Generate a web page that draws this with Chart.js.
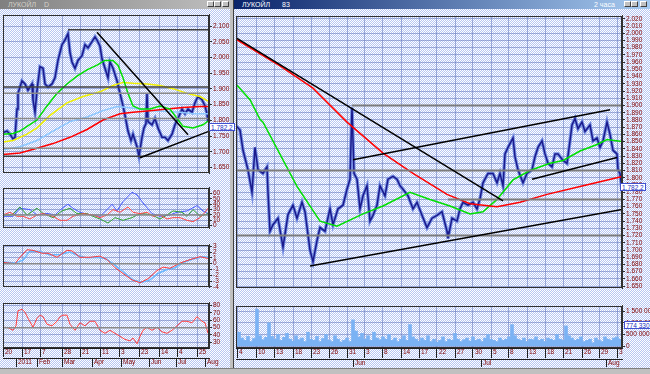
<!DOCTYPE html>
<html><head><meta charset="utf-8">
<script src="https://cdn.jsdelivr.net/npm/chart.js@4.4.0/dist/chart.umd.min.js"></script>
<style>
html,body{margin:0;padding:0;width:650px;height:374px;overflow:hidden;background:#c0c0c0;font-family:"Liberation Sans",Arial,sans-serif;}
.win{position:absolute;background:repeating-conic-gradient(#ffffff 0 25%, #b6c6f2 0 50%) 0 0/2px 2px;}
canvas{position:absolute;}
.tb{position:absolute;top:0;height:9px;font-size:7px;line-height:9px;white-space:nowrap;}
.btn{position:absolute;top:1px;width:7px;height:6px;background:#c0c0c0;border:1px solid;border-color:#fff #404040 #404040 #fff;box-sizing:border-box;}
.box{position:absolute;font-size:6.5px;line-height:7px;height:8px;background:#fff;color:#2030c0;border:1px solid #4050d0;box-sizing:border-box;padding:0 1px;white-space:nowrap;}
</style></head><body>
<div class="tb" style="left:0;width:230px;background:linear-gradient(90deg,#808080,#c0c0c0);color:#d4d0c8;"><span style="margin-left:8px">ЛУКОЙЛ</span><span style="margin-left:8px">D</span></div>
<div class="btn" style="left:207px"></div><div class="btn" style="left:214px"></div><div class="btn" style="left:222px"></div>
<div class="tb" style="left:234px;width:416px;background:linear-gradient(90deg,#0a246a,#a6caf0);color:#fff;"><span style="margin-left:8px">ЛУКОЙЛ</span><span style="margin-left:12px">83</span><span style="position:absolute;left:360px">2 часа</span></div>
<div class="btn" style="left:624px"></div><div class="btn" style="left:631px"></div><div class="btn" style="left:640px"></div>
<div class="win" style="left:0;top:9px;width:230px;height:359px;"></div>
<div style="position:absolute;left:230px;top:0;width:4px;height:374px;background:#c0c0c0;border-right:1px solid #404040;box-sizing:border-box;"></div>
<div class="win" style="left:234px;top:9px;width:416px;height:359px;"></div>
<div style="position:absolute;left:0;top:368px;width:650px;height:6px;background:#c0c0c0;border-top:1px solid #808080;box-sizing:border-box;"></div>

<canvas id="c1" style="left:3px;top:10px" width="227" height="168"></canvas>
<canvas id="c2" style="left:3px;top:183px" width="227" height="50"></canvas>
<canvas id="c3" style="left:3px;top:240px" width="227" height="52"></canvas>
<canvas id="c4" style="left:3px;top:298px" width="227" height="70"></canvas>
<canvas id="c5" style="left:236px;top:11px" width="414" height="282"></canvas>
<canvas id="c6" style="left:236px;top:301px" width="414" height="67"></canvas>

<div class="box" style="left:209px;top:123px">1.782,2</div>
<div class="box" style="left:620px;top:183px">1.782,2</div>
<div class="box" style="left:624px;top:321px">774 330</div>

<script>
// ===== LEFT WINDOW (daily) =====
const lDayPos = [0,19,37,59,77,97,116,136,156,174,194];
const lDayLabels = ['20','17','7','28','21','11','3','23','14','4','25'];
const lMonPos = [13,34,59,89,118,146,173,202];
const lMonLabels = ['2011','Feb','Mar','Apr','May','Jun','Jul','Aug'];
const lPriceTicks = [1650,1700,1750,1800,1850,1900,1950,2000,2050,2100];

const lPriceX = [0,4,7,10,12,14,15,19,22,25,29,30,32,34,37,40,42,45,49,52,55,59,62,65,67,69,72,75,79,82,85,89,92,94,97,99,102,105,107,110,114,117,120,122,125,128,130,134,136,139,141,143,144,145,149,152,155,159,162,165,169,172,175,179,182,185,189,192,195,199,202,204,205];
const lPriceY = [1761,1766,1756,1741,1746,1836,1886,1926,1916,1896,1916,1866,1826,1896,1971,1966,1916,1906,1916,1936,1991,2041,2056,2076,2016,1986,1966,1991,2006,2041,2031,2051,2066,2056,2036,1996,1966,1936,1986,1966,1926,1886,1846,1816,1766,1736,1756,1716,1686,1746,1776,1790,1886,1796,1786,1806,1776,1746,1746,1736,1756,1786,1806,1836,1821,1836,1826,1856,1876,1866,1846,1821,1796];

const lGreenX = [0,10,17,24,34,44,54,64,74,84,94,102,110,115,120,125,130,137,147,157,167,174,180,190,200,205];
const lGreenY = [1756,1758,1766,1781,1801,1846,1886,1916,1941,1961,1976,1991,1991,1976,1936,1886,1846,1836,1836,1846,1836,1806,1781,1776,1786,1798];
const lYellowX = [0,10,24,34,47,64,80,97,110,120,130,144,157,170,184,197,205];
const lYellowY = [1731,1736,1756,1776,1816,1856,1876,1891,1911,1921,1918,1916,1911,1901,1886,1876,1861];
const lCyanX = [0,17,34,50,67,84,100,114,124,137,150,164,177,190,205];
const lCyanY = [1706,1716,1736,1766,1796,1811,1831,1844,1841,1836,1831,1828,1826,1821,1821];
const lRedX = [0,17,34,50,67,84,100,117,130,147,164,180,197,205];
const lRedY = [1691,1696,1711,1726,1746,1771,1801,1821,1826,1831,1836,1841,1844,1844];

// horizontal levels [from, to, value] and trend lines [x0,y0,x1,y1]
const lLevelsDark = [[65,206,2089],[0,206,1906],[0,206,1686]];
const lLevelsGray = [[0,206,1886],[0,206,1806],[0,206,1711]];
const lTrends = [[94,2081,185,1754],[137,1681,205,1764]];

// DMI / ADX panel
const adxTicks = [0,10,20,30,40,50,60];
const dmiBlueX = [0,10,17,27,34,44,52,59,65,70,77,87,97,104,109,114,120,129,134,140,149,157,167,174,184,194,200,205];
const dmiBlueY = [17.5,17.5,32.5,30,20,23,20,32.5,40,32.5,25,20,17.5,30,40,27.5,45,62.5,57.5,42.5,22.5,17.5,20,25,27.5,37.5,27.5,22.5];
const dmiGreenX = [0,9,17,24,34,40,50,59,67,74,84,90,97,105,112,120,129,134,140,149,157,164,170,179,184,190,197,205];
const dmiGreenY = [20,20,35,20,32.5,23,15,27.5,32.5,22.5,22.5,17.5,12.5,5,15,10,15,20,22.5,20,12.5,20,27.5,25,17.5,30,17.5,22.5];
const dmiRedX = [0,7,14,20,27,34,40,50,57,64,70,80,90,97,104,110,117,125,130,137,144,150,157,164,170,177,184,190,197,202,205];
const dmiRedY = [20,25,17.5,17.5,12.5,20,22.5,17.5,10,10,17.5,22.5,20,15,20,30,25,35,25,22.5,25,17.5,20,12.5,15,15,10,7.5,15,25,32.5];

// MACD panel
const macdTicks = [-4,-3,-2,-1,0,1,2,3];
const macdRedX = [0,12,17,24,30,39,45,54,64,69,77,87,97,104,112,120,129,137,145,154,160,167,177,187,197,205];
const macdRedY = [0.2,0,1.1,2.4,2.3,1.8,1.8,1.1,2.3,2.2,1.1,1.1,1.3,0.7,-0.7,-1.7,-2.8,-3.3,-2.6,-1.2,-0.6,-0.8,0.1,0.7,1.2,0.9];
const macdBlueX = [0,12,20,27,37,47,57,67,75,84,94,102,110,120,130,139,147,155,164,172,180,190,200,205];
const macdBlueY = [0.3,0.1,0.6,2.2,2.1,1.5,1.6,2.0,1.4,1.0,1.1,0.9,0,-1.4,-2.8,-3.2,-2.8,-1.7,-1.0,-0.7,0.2,0.8,1.2,1.1];

// RSI panel
const rsiTicks = [30,40,50,60,70,80];
const rsiX = [0,5,10,13,15,19,22,25,30,34,37,40,44,49,54,57,60,64,67,72,77,82,87,92,97,102,107,112,117,122,127,130,134,137,140,144,149,154,159,164,169,174,179,184,189,194,199,202,205];
const rsiY = [50.5,50,46.4,52.5,73,75,71,62.8,50.5,62.8,67,65,54.6,52.5,58.7,65,67,67,54.6,46.4,56.6,52.5,58.7,58.7,46.4,42.3,46.4,42.3,38.2,34,32,36,28,38,46.4,50.5,46.4,50.5,44.3,42.3,46.4,52.5,58.7,58.7,56.6,65,58.7,56.6,42.3];

// ===== RIGHT WINDOW (2-hour bars) =====
const rDayPos = [1,20,38,57,75,93,111,128,146,165,183,201,219,237,255,272,291,309,327,346,363,381];
const rDayLabels = ['4','10','13','18','23','26','31','3','8','14','17','22','27','30','5','8','13','18','21','26','29','3'];
const rMonPos = [117,245,370];
const rMonLabels = ['Jun','Jul','Aug'];
const rPriceTicks = [1650,1660,1670,1680,1690,1700,1710,1720,1730,1740,1750,1760,1770,1780,1790,1800,1810,1820,1830,1840,1850,1860,1870,1880,1890,1900,1910,1920,1930,1940,1950,1960,1970,1980,1990,2000,2010,2020];
const volTicks = [0,500000,1000000,1500000];

const rPriceX = [0,4,7,12,16,19,22,27,31,32,34,37,42,47,52,57,61,66,69,74,77,81,84,89,94,97,102,107,111,114,116,118,121,124,127,131,134,137,141,144,149,152,157,161,164,167,172,177,181,186,191,196,201,206,211,212,216,221,224,227,232,237,241,244,247,252,257,261,264,267,269,272,277,279,282,287,291,296,299,302,306,309,312,316,319,322,327,331,334,336,339,342,346,349,354,357,361,364,367,371,374,377,381,382,384,386];
const rPriceY = [1872,1866,1838,1811,1780,1842,1811,1806,1815,1780,1726,1735,1744,1704,1749,1762,1744,1766,1753,1700,1684,1713,1731,1726,1757,1735,1757,1762,1784,1798,1897,1806,1798,1757,1775,1789,1740,1748,1762,1789,1775,1798,1802,1798,1789,1784,1775,1757,1766,1748,1731,1744,1748,1753,1726,1716,1744,1740,1757,1766,1762,1766,1757,1771,1793,1806,1806,1793,1806,1789,1833,1842,1855,1829,1811,1793,1806,1811,1829,1842,1851,1833,1820,1815,1833,1833,1824,1820,1851,1873,1882,1868,1877,1864,1873,1851,1855,1842,1851,1877,1860,1838,1833,1811,1806,1782];

const rRedX = [1,44,77,111,147,177,211,234,261,284,311,344,384,386];
const rRedY = [1991,1955,1924,1877,1834,1806,1777,1764,1760,1766,1777,1788,1801,1802];
const rGreenX = [1,14,24,27,61,84,101,127,147,174,194,214,234,247,261,277,294,314,327,344,361,371,386];
const rGreenY = [1928,1908,1881,1877,1788,1740,1733,1750,1761,1780,1770,1761,1750,1753,1770,1797,1810,1820,1824,1837,1846,1853,1850];

const rLevels = [[116,386,1900],[0,386,1810],[212,386,1770],[0,386,1720]];
const rTrends = [[1,1993,267,1768],[117,1825,374,1894],[296,1798,381,1828],[74,1678,386,1756]];

// volume (thousands), one bar every 3 time units
const volK = [300,600,350,250,420,200,330,1580,450,280,380,1000,420,300,500,250,380,550,300,220,450,280,350,200,600,300,250,420,200,330,500,260,200,450,300,180,250,350,200,1130,650,400,550,300,450,250,600,350,280,400,300,500,250,350,200,300,450,250,930,400,300,220,350,250,450,200,300,180,250,400,200,300,250,550,300,200,280,350,220,400,250,300,200,350,500,300,250,200,350,250,300,400,930,450,300,250,350,200,300,280,400,250,300,200,350,300,250,500,300,250,870,450,350,250,300,400,200,250,300,150,350,250,200,400,300,250,350,400,300,500];

// ===== helpers =====
const gridColor = 'rgba(100,120,190,0.55)';
const labColor = '#800000';
const pts = (xs, ys) => xs.map((x, i) => ({x, y: ys[i]}));
const seg = (x0, y0, x1, y1) => [{x: x0, y: y0}, {x: x1, y: y1}];
const ln = (data, color, w) => ({type: 'line', data, borderColor: color, borderWidth: w, pointRadius: 0, fill: false, tension: 0});
const fixed = vals => s => { s.ticks = vals.map(v => ({value: v})); };
const thou = v => Math.floor(v / 1000) + '.' + String(Math.round(v % 1000)).padStart(3, '0');
const spaced = v => v === 0 ? '0' : String(v).replace(/\B(?=(\d{3})+(?!\d))/g, ' ');

const frame = {id: 'frame', afterDraw(c) {
  const a = c.chartArea, x = c.ctx;
  x.save(); x.strokeStyle = '#303030'; x.lineWidth = 1;
  x.strokeRect(Math.round(a.left) + 0.5, Math.round(a.top) + 0.5, Math.round(a.right - a.left) - 1, Math.round(a.bottom - a.top) - 1);
  x.restore();
}};

function yAxis(min, max, ticks, fmt, w) {
  return {type: 'linear', position: 'right', min, max, afterBuildTicks: fixed(ticks), afterFit: s => { s.width = w; },
    ticks: {autoSkip: false, font: {size: 6.5, family: 'Liberation Sans'}, color: labColor, padding: 1, callback: fmt},
    grid: {color: gridColor, borderDash: [1, 2], tickLength: 3, tickColor: '#303030', tickBorderDash: []},
    border: {color: '#303030'}};
}
function xHidden(max, pos) {
  return {type: 'linear', min: 0, max, offset: false, afterBuildTicks: fixed(pos), afterFit: s => { s.height = 0; },
    ticks: {display: false}, grid: {offset: false, color: gridColor, borderDash: [1, 2], drawTicks: false}, border: {display: false}};
}
function xDates(max, pos, labels, h, onArea) {
  return {type: 'linear', position: 'bottom', min: 0, max, offset: false, afterBuildTicks: fixed(pos), afterFit: s => { s.height = h; },
    ticks: {autoSkip: false, maxRotation: 0, align: 'start', labelOffset: 2, padding: -h + 1, font: {size: 6.5, family: 'Liberation Sans'}, color: labColor,
      callback: (v, i) => labels[i]},
    grid: {offset: false, drawOnChartArea: onArea, color: gridColor, borderDash: [1, 2], tickLength: h - 1, tickColor: '#202020', tickBorderDash: []},
    border: {color: '#202020'}};
}
function make(id, datasets, scales) {
  return new Chart(document.getElementById(id), {
    type: 'line', data: {datasets},
    options: {responsive: false, animation: false, events: [], layout: {padding: 0},
      plugins: {legend: {display: false}, tooltip: {enabled: false}}, scales},
    plugins: [frame]
  });
}

// ===== left charts =====
make('c1', [
  ...lTrends.map(t => ln(seg(...t), '#000000', 1.5)),
  ...lLevelsDark.map(l => ln(seg(l[0], l[2], l[1], l[2]), '#404040', 1.5)),
  ...lLevelsGray.map(l => ln(seg(l[0], l[2], l[1], l[2]), '#8a8a8a', 1.5)),
  ln(pts(lGreenX, lGreenY), '#00e000', 1.5),
  ln(pts(lYellowX, lYellowY), '#f0f000', 1.5),
  ln(pts(lRedX, lRedY), '#ff0000', 1.5),
  ln(pts(lCyanX, lCyanY), '#8cc8ff', 1.5),
  ln(pts(lPriceX, lPriceY), '#1a1a8c', 1.5),
  ln(pts(lPriceX, lPriceY), '#7890e4', 3.5)
], {x: xHidden(206, lDayPos), y: yAxis(1632, 2136, lPriceTicks, thou, 21)});

make('c2', [
  ln(seg(0, 20, 206, 20), '#8a8a8a', 1.5),
  ln(pts(dmiRedX, dmiRedY), '#ff4848', 1),
  ln(pts(dmiGreenX, dmiGreenY), '#30a030', 1),
  ln(pts(dmiBlueX, dmiBlueY), '#4a5cff', 1)
], {x: xHidden(206, lDayPos), y: yAxis(-4.5, 70.5, adxTicks, v => v, 21)});

make('c3', [
  ln(seg(0, 0, 206, 0), '#8a8a8a', 1.5),
  ln(pts(macdRedX, macdRedY), '#ff3a3a', 1),
  ln(pts(macdBlueX, macdBlueY), '#6ab8ff', 1.5)
], {x: xHidden(206, lDayPos), y: yAxis(-4.05, 3.24, macdTicks, v => v, 21)});

make('c4', [
  ln(seg(0, 50, 206, 50), '#8a8a8a', 1.5),
  ln(pts(rsiX, rsiY), '#ff4040', 1)
], {x: xDates(206, lDayPos, lDayLabels, 10, true), xm: xDates(206, lMonPos, lMonLabels, 10, false),
    y: yAxis(22.3, 83.7, rsiTicks, v => v, 21)});

// ===== right charts =====
make('c5', [
  ...rTrends.map(t => ln(seg(...t), '#000000', 1.5)),
  ...rLevels.map(l => ln(seg(l[0], l[2], l[1], l[2]), '#7c7c7c', 2)),
  ln(pts(rRedX, rRedY), '#ff0000', 1.5),
  ln(pts(rGreenX, rGreenY), '#00e000', 1.5),
  ln(pts(rPriceX, rPriceY), '#1a1a8c', 1.5),
  ln(pts(rPriceX, rPriceY), '#7890e4', 3.5)
], {x: xHidden(386, rDayPos), y: yAxis(1647.3, 2024, rPriceTicks, thou, 28)});

make('c6', [
  {type: 'bar', data: volK.map((v, i) => ({x: i * 3, y: v * 1000})), backgroundColor: '#7ab2f4', barThickness: 3}
], {x: xDates(386, rDayPos, rDayLabels, 11, true), xm: xDates(386, rMonPos, rMonLabels, 9, false),
    y: yAxis(-77000, 1730000, volTicks, spaced, 28)});
</script>
</body></html>
